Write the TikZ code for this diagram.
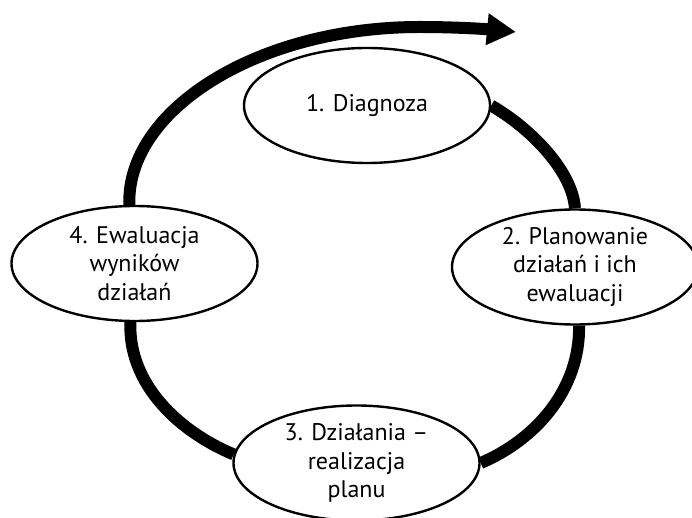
\documentclass[tikz,border=0pt]{standalone}
\usepackage{fontspec}
\setmainfont{PT Sans}
\usetikzlibrary{shapes.geometric,arrows.meta}
\pgfdeclarelayer{bg}
\pgfsetlayers{bg,main}
\begin{document}
\begin{tikzpicture}[x=1pt,y=-1pt,
  stage/.style={ellipse, draw=black, line width=2.4pt, fill=white,
    inner sep=0pt, minimum width=246pt, minimum height=115pt,
    align=center, font=\fontsize{24}{28.5}\selectfont},
  cyc/.style={line width=12pt, black}]
\useasboundingbox (0,0) rectangle (692,518);
\node[stage] (e1) at (367,105.5) {1. Diagnoza};
\node[stage] (e2) at (575,267) {2. Planowanie\\działań i ich\\ewaluacji};
\node[stage] (e3) at (356.5,463) {3. Działania –\\realizacja\\planu};
\node[stage] (e4) at (134.5,263.5) {4. Ewaluacja\\wyników\\działań};
\coordinate (tip) at (516,32);
\begin{pgfonlayer}{bg}
\draw[cyc] (e1.east) .. controls (530,128) and (572,170) .. (e2.north);
\draw[cyc] (e2.-86) .. controls (580,390) and (535,440) .. (e3.east);
\draw[cyc] (e3.176) .. controls (180,432) and (128,385) .. (e4.-94);
\draw[cyc, -{Triangle[length=29pt,width=30pt]}] (e4.95) .. controls (126,111) and (256,27) .. (420,27) .. controls (455,27) and (485,29) .. (tip);
\end{pgfonlayer}
\end{tikzpicture}
\end{document}
